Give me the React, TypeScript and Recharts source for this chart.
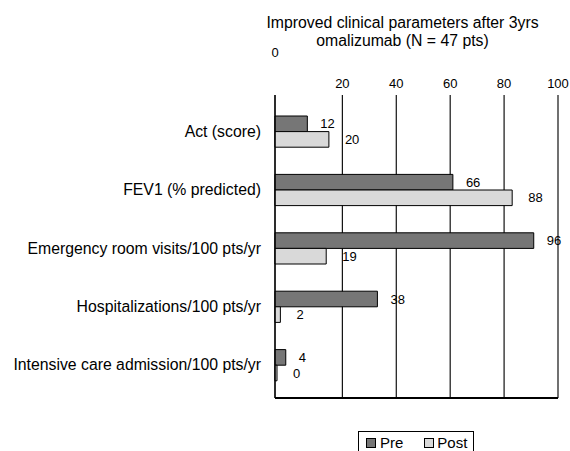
import { BarChart, Bar, XAxis, YAxis, CartesianGrid, LabelList, Legend } from "recharts";

const categories = [
  "Act (score)",
  "FEV1 (% predicted)",
  "Emergency room visits/100 pts/yr",
  "Hospitalizations/100 pts/yr",
  "Intensive care admission/100 pts/yr",
];
const preValues = [12, 66, 96, 38, 4];
const postValues = [20, 88, 19, 2, 0];
const gridTicks = [20, 40, 60, 80, 100];
const zeroTick = [0];

const data = categories.map((name, i) => ({ name, pre: preValues[i], post: postValues[i] }));

const FONT = "'Liberation Sans', Arial, Helvetica, sans-serif";
const PRE = "#767676";
const POST = "#d9d9d9";

const renderLegend = () => (
  <div
    style={{
      display: "flex", alignItems: "center", border: "1px solid #000", background: "#fff",
      padding: "2px 6px 3px 7px", fontFamily: FONT, fontSize: 15, color: "#000", lineHeight: "18px",
    }}
  >
    <span style={{ width: 8, height: 8, background: PRE, border: "1px solid #000", marginRight: 4 }} />
    <span style={{ marginRight: 21 }}>Pre</span>
    <span style={{ width: 8, height: 8, background: POST, border: "1px solid #000", marginRight: 3 }} />
    <span>Post</span>
  </div>
);

export default function App() {
  return (
    <div style={{ position: "absolute", left: 0, top: 0, width: 570, height: 451, background: "#fff" }}>
      <div
        style={{
          position: "absolute", left: 235, width: 335, top: 14, textAlign: "center",
          fontFamily: FONT, fontSize: 15.8, lineHeight: "18px", color: "#000",
        }}
      >
        Improved clinical parameters after 3yrs
        <br />
        omalizumab (N = 47 pts)
      </div>
      <BarChart
        width={570}
        height={451}
        data={data}
        layout="vertical"
        barGap={0}
        barSize={15.6}
        margin={{ top: 64, right: 12, bottom: 52, left: 0 }}
      >
        <CartesianGrid xAxisId="grid" horizontal={false} stroke="#111" strokeWidth={1.2} />
        <XAxis
          xAxisId="grid"
          type="number"
          orientation="top"
          domain={[-5, 100]}
          allowDataOverflow
          ticks={gridTicks}
          interval={0}
          height={30}
          tickMargin={1}
          tickLine={false}
          axisLine={false}
          tick={{ fontSize: 13, fill: "#000", fontFamily: FONT }}
        />
        <XAxis
          xAxisId="zero"
          type="number"
          orientation="top"
          domain={[0, 105]}
          allowDataOverflow
          ticks={zeroTick}
          interval={0}
          height={1}
          tickLine={false}
          axisLine={false}
          tick={{ fontSize: 13, fill: "#000", fontFamily: FONT }}
        />
        <XAxis
          xAxisId="bars"
          type="number"
          orientation="bottom"
          domain={[0, 105]}
          height={1}
          tick={false}
          tickLine={false}
          axisLine={{ stroke: "#000", strokeWidth: 1.2 }}
        />
        <YAxis
          type="category"
          dataKey="name"
          width={275}
          padding={{ top: 7, bottom: 4 }}
          tickLine={false}
          tickMargin={8}
          axisLine={{ stroke: "#000", strokeWidth: 1.2 }}
          tick={{ fontSize: 15.8, fill: "#000", fontFamily: FONT }}
        />
        <Legend
          layout="horizontal"
          verticalAlign="middle"
          content={renderLegend}
          wrapperStyle={{ position: "absolute", left: 358, top: 431, width: "auto", height: "auto" }}
        />
        <Bar xAxisId="bars" dataKey="pre" name="Pre" fill={PRE} stroke="#000" strokeWidth={1} isAnimationActive={false}>
          <LabelList dataKey="pre" position="right" offset={13} fill="#000" fontSize={13} fontFamily={FONT} />
        </Bar>
        <Bar xAxisId="bars" dataKey="post" name="Post" fill={POST} stroke="#000" strokeWidth={1} minPointSize={2} isAnimationActive={false}>
          <LabelList dataKey="post" position="right" offset={16} fill="#000" fontSize={13} fontFamily={FONT} />
        </Bar>
      </BarChart>
      {/* bottom frame of the plot area (backup) */}
      <div style={{ position: "absolute", left: 274.5, top: 397.4, width: 283.5, height: 1.2, background: "#000", zIndex: 5 }} />
    </div>
  );
}
